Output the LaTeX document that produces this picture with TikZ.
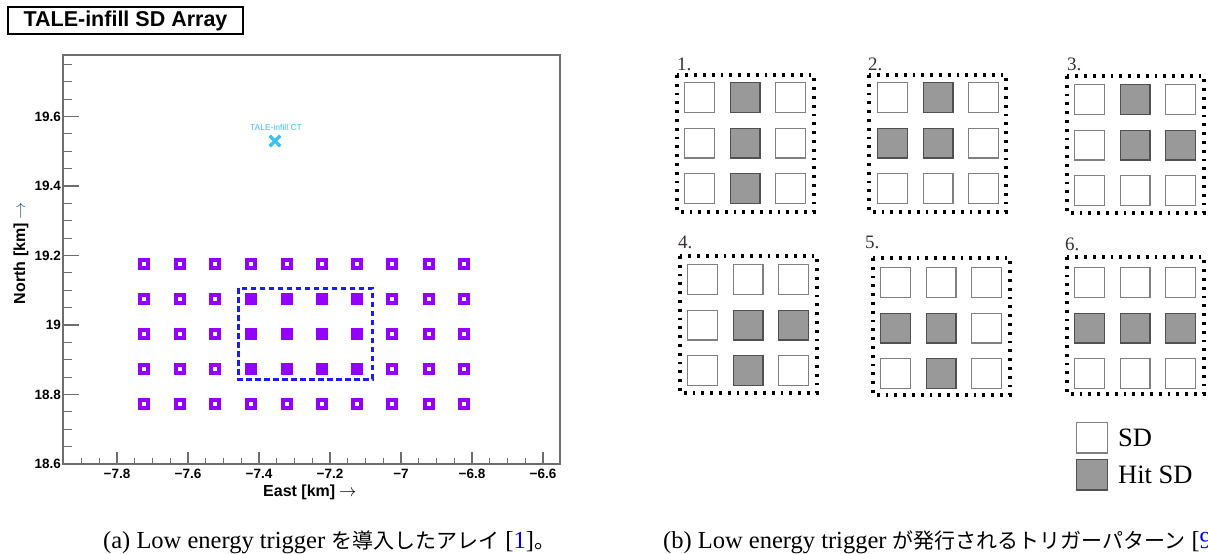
\documentclass[tikz,border=0pt]{standalone}
\usepackage{fontspec}
\setmainfont{Liberation Serif}
\newfontfamily\arialf{Liberation Sans}
\newfontfamily\cjkf{Noto Sans CJK JP}
\usetikzlibrary{shapes.misc}
\definecolor{axgray}{HTML}{6E6E6E}
\definecolor{sdviolet}{HTML}{9400FF}
\definecolor{ctblue}{HTML}{3CC0F0}
\definecolor{trigblue}{HTML}{1A1AFF}
\definecolor{sdgray}{HTML}{808080}
\definecolor{hitgray}{HTML}{505050}
\definecolor{hitfill}{HTML}{999999}
\definecolor{linkblue}{HTML}{0000EE}
\definecolor{arrowblue}{HTML}{2A6090}
\definecolor{labdark}{HTML}{3A3030}
\begin{document}
\begin{tikzpicture}[x=1pt,y=-1pt,
  axisline/.style={draw=axgray,line width=1.2pt},
  hollow/.style={rectangle,draw=sdviolet,line width=3.6pt,minimum size=8.4pt,inner sep=0pt},
  filledsd/.style={rectangle,fill=sdviolet,minimum size=12pt,inner sep=0pt},
  trigbox/.style={draw=trigblue,line width=3pt,dash pattern=on 5.5pt off 3.5pt},
  sdbox/.style={rectangle,draw=sdgray,line width=1.2pt,fill=white,minimum size=29.8pt,inner sep=0pt},
  hitbox/.style={rectangle,draw=hitgray,line width=1.2pt,fill=hitfill,minimum size=29.8pt,inner sep=0pt},
  dotframe/.style={draw=black,line width=3.2pt,dash pattern=on 2.8pt off 6pt},
  patlabel/.style={anchor=base west,inner sep=0pt,text=labdark,font=\fontsize{19}{21}\selectfont},
  ticklab/.style={inner sep=0pt,font=\arialf\bfseries\fontsize{13.5}{15}\selectfont},
  ctmark/.style={cross out,draw=ctblue,line width=3.2pt,minimum size=7.5pt,inner sep=0pt},
  caption/.style={anchor=base west,inner sep=0pt,font=\fontsize{24.5}{28}\selectfont}
]
\useasboundingbox (0,0) rectangle (1208,554);

% ---------- left plot ----------
\node[draw=black,line width=1.2pt,minimum width=235pt,minimum height=27pt,inner sep=0pt,
      font=\arialf\bfseries\fontsize{21.5}{24}\selectfont] (title) at (125.5,20.5) {TALE-infill SD Array};

\draw[axisline] (63,55) rectangle (560,464);
% y ticks
\foreach \k in {1,...,23} \draw[axisline] (63,{464-\k*17.375}) -- ++(9,0);
\foreach \k/\lab in {0/18.6,1/18.8,2/19,3/19.2,4/19.4,5/19.6} {
  \draw[axisline] (63,{464-\k*69.5}) -- ++(16,0);
  \node[ticklab,anchor=east] (yl\k) at (61,{464-\k*69.5}) {\lab};
}
% x ticks
\foreach \k in {-2,...,24} \draw[axisline] ({117+\k*17.75},464) -- ++(0,-6);
\foreach \k/\lab in {0/−7.8,1/−7.6,2/−7.4,3/−7.2,4/−7,5/−6.8,6/−6.6} {
  \draw[axisline] ({117+\k*71},464) -- ++(0,-12);
  \node[ticklab] (xl\k) at ({117+\k*71},474) {\lab};
}
\node[anchor=west,inner sep=0pt,font=\arialf\bfseries\fontsize{16}{18}\selectfont] (xtitle) at (263,492)
  {East [km]\hspace{4pt}{\mdseries$\rightarrow$}};
\node[rotate=90,inner sep=0pt,font=\arialf\bfseries\fontsize{16}{18}\selectfont] (ytitle) at (21,253)
  {North [km]\hspace{4pt}{\color{arrowblue}$\rightarrow$}};

% CT
\node[ctmark] (ct) at (275,141) {};
\node[inner sep=0pt,text=ctblue,font=\arialf\fontsize{8.5}{9}\selectfont] (ctlab) at (276,127) {TALE-infill CT};

% SD markers
\foreach \c [count=\i] in {144,180,215,251,287,322,357,392,429,464} {
  \node[hollow] (top\i) at (\c,264) {};
  \node[hollow] (bot\i) at (\c,404) {};
}
\foreach \c [count=\i] in {144,180,215,392,429,464}
  \foreach \r [count=\j] in {299,334,369}
    \node[hollow] (h\i-\j) at (\c,\r) {};
\foreach \c [count=\i] in {251,287,322,357}
  \foreach \r [count=\j] in {299,334,369}
    \node[filledsd] (f\i-\j) at (\c,\r) {};
\draw[trigbox] (238,288) rectangle (372,379);

% ---------- right patterns ----------
\foreach \fx/\fy/\sx/\sy/\lab/\lx/\ly [count=\p] in
  {677/75/684/82/1./677/70, 869/75/877/82/2./868/70, 1067/76/1074/84/3./1067/70,
   680/256/687/264/4./678/248, 873/258/880/267/5./865/248, 1067/257/1074/267/6./1065/250} {
  \draw[dotframe] (\fx,\fy) rectangle ++(137,137);
  \node[patlabel] (lab\p) at (\lx,\ly) {\lab};
  \foreach \cc in {0,1,2}
    \foreach \rr in {0,1,2}
      \node[sdbox] (p\p-\rr\cc) at ({\sx+15.5+45.5*\cc},{\sy+15.5+45.5*\rr}) {};
}
\foreach \p/\r/\c in {1/0/1,1/1/1,1/2/1, 2/0/1,2/1/0,2/1/1, 3/0/1,3/1/1,3/1/2,
                      4/1/1,4/1/2,4/2/1, 5/1/0,5/1/1,5/2/1, 6/1/0,6/1/1,6/1/2}
  \node[hitbox] (hit\p-\r\c) at (p\p-\r\c) {};

% legend
\node[sdbox,minimum size=30.8pt] (legsd) at (1092,437.5) {};
\node[hitbox,minimum size=30.8pt] (leghit) at (1092,474.5) {};
\node[anchor=base west,inner sep=0pt,font=\fontsize{26.5}{28}\selectfont] (legsdlab) at (1118,446.6) {SD};
\node[anchor=base west,inner sep=0pt,font=\fontsize{26.5}{28}\selectfont] (leghitlab) at (1118,483.6) {Hit SD};

% captions
\node[caption] (capa) at (103,548)
  {(a) Low energy trigger {\cjkf\fontsize{21}{24}\selectfont を導入したアレイ} [{\color{linkblue}1}]{\cjkf\fontsize{21}{24}\selectfont 。}};
\node[caption] (capb) at (663,548)
  {(b) Low energy trigger {\cjkf\fontsize{21}{24}\selectfont が発行されるトリガーパターン} [{\color{linkblue}9}};
\end{tikzpicture}
\end{document}
